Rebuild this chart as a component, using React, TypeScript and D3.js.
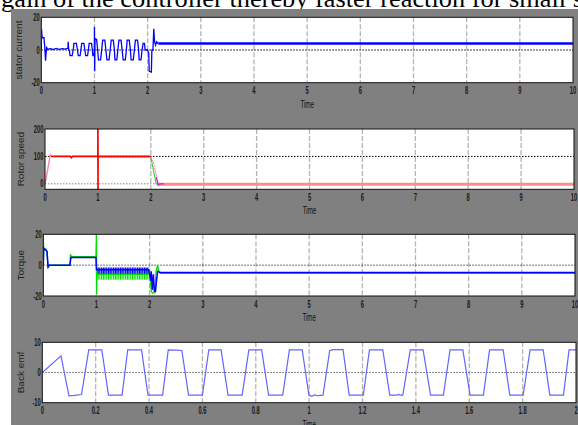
import React from 'react';
import * as d3 from 'd3';

type Pt = [number, number];

const headline = 'gain of the controller thereby faster reaction for small s';

// tick values
const timeTicks = [0, 1, 2, 3, 4, 5, 6, 7, 8, 9, 10];
const emfTimeTicks = [0, 0.2, 0.4, 0.6, 0.8, 1, 1.2, 1.4, 1.6, 1.8, 2];
const statorTicks = [-20, 0, 20];
const speedTicks = [0, 100, 200];
const torqueTicks = [-20, 0, 20];
const emfTicks = [-10, 0, 10];

// stator current (A)
const statorCurrent: Pt[] = [
  [0, 0], [0.004, 13], [0.012, 9], [0.02, 7.5], [0.05, 7.5], [0.065, 2], [0.08, -6.5], [0.09, -2], [0.1, 1.5],
  [0.12, 0.5], [0.18, 0.8], [0.22, 0.3], [0.28, 1], [0.33, 0.4], [0.4, 0.8], [0.45, 0.5], [0.5, 1], [0.505, 5], [0.515, 0],
  [0.53, -0.5], [0.54, -3.5], [0.58, -3.5], [0.6, 0], [0.615, 4], [0.66, 4], [0.68, 0], [0.695, -3.5], [0.73, -3.5],
  [0.745, 0], [0.76, 4], [0.8, 4], [0.82, 0], [0.835, -3.5], [0.87, -3.5], [0.885, 0], [0.9, 4], [0.945, 4], [0.96, 0],
  [0.97, -3.5], [0.99, -3.5], [0.998, 0],
  [1.0, 14], [1.004, -13], [1.01, 7], [1.04, 6.5], [1.06, 0], [1.075, -6], [1.115, -6], [1.135, 0], [1.155, 6], [1.195, 6],
  [1.215, 0], [1.235, -6], [1.275, -6], [1.295, 0], [1.315, 6], [1.355, 6], [1.375, 0], [1.385, -6], [1.42, -6], [1.44, 0],
  [1.46, 6], [1.5, 6], [1.52, 0], [1.54, -6], [1.58, -6], [1.6, 0], [1.615, 6], [1.655, 6], [1.675, 0], [1.69, -6], [1.73, -6],
  [1.75, 0], [1.77, 6], [1.81, 6], [1.83, 0], [1.84, -6], [1.875, -6], [1.895, 0], [1.915, 4], [1.94, 4], [1.955, 0],
  [2.0, 0], [2.02, -2], [2.03, -13], [2.07, -13.5], [2.08, 0], [2.1, 0], [2.115, 13], [2.13, 5], [2.15, 3], [2.17, 5], [2.2, 4],
];
const statorSteady: Pt[] = [[2.2, 4], [10, 4]];

// rotor speed (rad/s)
const speedRise: Pt[] = [[0, 0], [0.03, 30], [0.1, 106], [0.12, 100]];
const speedMain: Pt[] = [
  [0.12, 100], [0.48, 100], [0.5, 95], [0.52, 100], [0.998, 100], [1.0, 240], [1.002, -40], [1.004, 100], [2.0, 100],
];
const speedTrace: Pt[] = [[1.01, 96], [1.98, 96], [2.05, 80], [2.1, 35], [2.13, 10], [2.16, -6], [2.2, -2]];
const speedRef: Pt[] = [[1.98, 100], [2.0, 98], [2.1, 0], [2.13, -2]];
const speedFall: Pt[] = [[2.1, 25], [2.14, -5], [2.17, 0], [2.25, 0]];
const speedTail: Pt[] = [[2.15, -2], [10, -2]];

// torque (N.m)
const torqueGreen: Pt[] = [
  [0, 20], [0.005, 12], [0.02, 10], [0.05, 10.5], [0.07, 8], [0.09, -2], [0.1, -1], [0.12, 0], [0.5, 0], [0.51, 7],
  [0.53, 5.5], [0.99, 5.5], [1.0, 20], [1.002, -19], [1.008, -8], [1.02, -6],
  [1.99, -6], [2.0, -3], [2.03, -17], [2.05, -18], [2.1, -18], [2.12, -4], [2.15, 0], [2.17, -4], [2.2, -5.3], [10, -5.3],
];
const torqueBlue: Pt[] = [
  [0, 0], [0.01, 11], [0.04, 10], [0.07, 9], [0.09, -1], [0.11, 0], [0.5, 0], [0.52, 5], [0.99, 5], [1.0, -3], [1.02, -3],
  [1.98, -3], [2.0, -6], [2.02, -10], [2.03, -4], [2.05, -16], [2.07, -6], [2.09, -17], [2.11, -17], [2.13, -10],
  [2.15, -4], [2.2, -4.8], [10, -4.8],
];
const bandTime = [1.01, 1.5, 1.99];
const blueBandHi = [-1.5, -1.5, -1.5];
const blueBandLo = [-6.3, -6.3, -6.3];
const greenBandHi = [-5.5, -5.5, -5.5];
const greenBandLo = [-9.5, -9.5, -9.5];

// back emf (V)
const backEmf: Pt[] = [
  [0, 0], [0.07, 5.5], [0.1, -7.7], [0.12, -7.6], [0.147, -7.3], [0.174, 7.5], [0.223, 7.5], [0.248, -7.5], [0.299, -7.5],
  [0.32, 7.5], [0.372, 7.5], [0.396, -7.5], [0.451, -7.5], [0.472, 7.5], [0.5, 7.4], [0.523, 7.3], [0.548, -7.5],
  [0.6, -7.5], [0.624, 7.5], [0.67, 7.5], [0.696, -7.5], [0.749, -7.5], [0.774, 7.5], [0.822, 7.5], [0.848, -7.5],
  [0.901, -7.5], [0.926, 7.5], [0.974, 7.5], [0.999, -7.5], [1.01, -7.9], [1.02, -7.4], [1.03, -7.7], [1.052, -7.5],
  [1.077, 7.3], [1.09, 7.6], [1.127, 7.6], [1.15, -7.5], [1.203, -7.5], [1.226, 7.5], [1.276, 7.5], [1.302, -7.5],
  [1.33, -7.5], [1.335, -7.2], [1.34, -7.5], [1.351, -7.5], [1.379, 7.5], [1.427, 7.5], [1.455, -7.5], [1.503, -7.5],
  [1.528, 7.5], [1.576, 7.5], [1.603, -7.5], [1.653, -7.5], [1.676, 7.5], [1.727, 7.5], [1.752, -7.5], [1.802, -7.5],
  [1.828, 7.5], [1.877, 7.5], [1.902, -7.5], [1.953, -7.5], [1.974, 7.5], [2.0, 7.5],
];

type Box = { left: number; right: number; top: number; bottom: number };
type Scale = d3.ScaleLinear<number, number>;

const tickFont = 'Liberation Sans, Arial, sans-serif';

function Panel(props: {
  id: string;
  box: Box;
  xTicks: number[];
  yTicks: number[];
  yDomain: [number, number];
  yLabel: string;
  labelX: number;
  grid: { v: number; color: string }[];
  children: (x: Scale, y: Scale) => React.ReactNode;
}) {
  const { id, box, xTicks, yTicks, yDomain, yLabel, labelX, grid, children } = props;
  const x = d3.scaleLinear().domain([xTicks[0], xTicks[xTicks.length - 1]]).range([box.left, box.right]);
  const y = d3.scaleLinear().domain(yDomain).range([box.bottom, box.top]);
  const w = box.right - box.left;
  const h = box.bottom - box.top;
  return (
    <g>
      <defs>
        <clipPath id={id}>
          <rect x={box.left} y={box.top} width={w} height={h} />
        </clipPath>
      </defs>
      <rect x={box.left} y={box.top} width={w} height={h} fill="#fff" />
      {xTicks.slice(1, -1).map(t => (
        <line key={'v' + t} x1={x(t)} x2={x(t)} y1={box.top} y2={box.bottom}
          stroke="#b4b4b4" strokeWidth={1.3} strokeDasharray="5,2" />
      ))}
      {grid.map(g => (
        <line key={'h' + g.v} x1={box.left} x2={box.right} y1={y(g.v)} y2={y(g.v)}
          stroke={g.color} strokeWidth={1} strokeDasharray="1.5,1.5" />
      ))}
      <g clipPath={`url(#${id})`}>{children(x, y)}</g>
      <rect x={box.left} y={box.top} width={w} height={h} fill="none" stroke="#111" strokeWidth={1} />
      {xTicks.map(t => (
        <text key={'xt' + t} transform={`translate(${x(t)},${box.bottom + 11.5}) scale(0.58,1)`}
          textAnchor="middle" fontFamily={tickFont} fontSize={10} fontWeight="bold" fill="#1a1a1a">{String(t)}</text>
      ))}
      {yTicks.map(t => (
        <text key={'yt' + t} transform={`translate(${box.left - 1.5},${y(t) + 3.5}) scale(0.58,1)`}
          textAnchor="end" fontFamily={tickFont} fontSize={10} fontWeight="bold" fill="#1a1a1a">{String(t)}</text>
      ))}
      <text transform={`translate(${(box.left + box.right) / 2},${box.bottom + 25}) scale(0.62,1)`}
        textAnchor="middle" fontFamily={tickFont} fontSize={10} fill="#111">Time</text>
      <text transform={`translate(${labelX},${(box.top + box.bottom) / 2}) rotate(-90) scale(1,0.85)`}
        textAnchor="middle" fontFamily={tickFont} fontSize={10} fill="#222">{yLabel}</text>
    </g>
  );
}

function path(x: Scale, y: Scale, pts: Pt[]) {
  return d3.line<Pt>().x(d => x(d[0])).y(d => y(d[1]))(pts) || '';
}

function band(x: Scale, y: Scale, hi: number[], lo: number[]) {
  const rows = bandTime.map((t, i) => ({ t, hi: hi[i], lo: lo[i] }));
  return d3.area<{ t: number; hi: number; lo: number }>()
    .x(d => x(d.t)).y0(d => y(d.lo)).y1(d => y(d.hi))(rows) || '';
}

export default function App() {
  return (
    <div style={{ position: 'absolute', left: 0, top: 0 }}>
      <svg width={578} height={425} style={{ display: 'block' }}>
        <defs>
          <pattern id="hatchBlue" width={2.4} height={4} patternUnits="userSpaceOnUse">
            <rect width={2.4} height={4} fill="#8a8cff" />
            <rect width={1.2} height={4} fill="#0000e8" />
          </pattern>
          <pattern id="hatchGreen" width={2.4} height={4} patternUnits="userSpaceOnUse">
            <rect width={2.4} height={4} fill="#b8ffb8" />
            <rect width={1.2} height={4} fill="#00dd00" />
          </pattern>
        </defs>
        <rect width={578} height={425} fill="#fff" />
        <text x={1} y={6.5} fontFamily="Liberation Serif, Times New Roman, serif" fontSize={26}
          textLength={582} lengthAdjust="spacingAndGlyphs" fill="#000">{headline}</text>
        <rect x={11} y={9} width={567} height={416} fill="#808080" />

        <Panel id="p1" box={{ left: 41.3, right: 573, top: 17.3, bottom: 82.7 }} xTicks={timeTicks}
          yTicks={statorTicks} yDomain={[-20, 20]} yLabel="stator current" labelX={22}
          grid={[{ v: 0, color: '#000' }]}>
          {(x, y) => (
            <g fill="none">
              <path d={path(x, y, statorCurrent)} stroke="#0000ff" strokeWidth={1.3} />
              <path d={path(x, y, statorSteady)} stroke="#0000ff" strokeWidth={2.6} />
            </g>
          )}
        </Panel>

        <Panel id="p2" box={{ left: 45, right: 574, top: 129, bottom: 189.3 }} xTicks={timeTicks}
          yTicks={speedTicks} yDomain={[-20, 200]} yLabel="Rotor speed" labelX={23.5}
          grid={[{ v: 0, color: '#888' }, { v: 100, color: '#000' }]}>
          {(x, y) => (
            <g fill="none">
              <path d={path(x, y, speedTail)} stroke="#ff8c8c" strokeWidth={3} />
              <path d={path(x, y, speedRise)} stroke="#ff7f9f" strokeWidth={1.4} />
              <path d={path(x, y, speedTrace)} stroke="#ff80c0" strokeWidth={1.2} strokeDasharray="2,1" />
              <path d={path(x, y, speedRef)} stroke="#33dd33" strokeWidth={1.2} />
              <path d={path(x, y, speedFall)} stroke="#cc22cc" strokeWidth={1.2} />
              <path d={path(x, y, speedMain)} stroke="#ff0000" strokeWidth={1.6} />
            </g>
          )}
        </Panel>

        <Panel id="p3" box={{ left: 43.3, right: 575, top: 234.3, bottom: 296 }} xTicks={timeTicks}
          yTicks={torqueTicks} yDomain={[-20, 20]} yLabel="Torque" labelX={24}
          grid={[{ v: 0, color: '#444' }]}>
          {(x, y) => (
            <g fill="none">
              <path d={band(x, y, greenBandHi, greenBandLo)} fill="url(#hatchGreen)" />
              <path d={band(x, y, blueBandHi, blueBandLo)} fill="url(#hatchBlue)" />
              <path d={path(x, y, torqueGreen)} stroke="#00dd00" strokeWidth={1.3} />
              <path d={path(x, y, torqueBlue)} stroke="#0000ff" strokeWidth={1.5} />
            </g>
          )}
        </Panel>

        <Panel id="p4" box={{ left: 42.3, right: 576, top: 342.3, bottom: 402.7 }} xTicks={emfTimeTicks}
          yTicks={emfTicks} yDomain={[-10, 10]} yLabel="Back emf" labelX={24}
          grid={[{ v: 0, color: '#666' }]}>
          {(x, y) => (
            <path d={path(x, y, backEmf)} fill="none" stroke="#6464ff" strokeWidth={1.2} />
          )}
        </Panel>
      </svg>
    </div>
  );
}
